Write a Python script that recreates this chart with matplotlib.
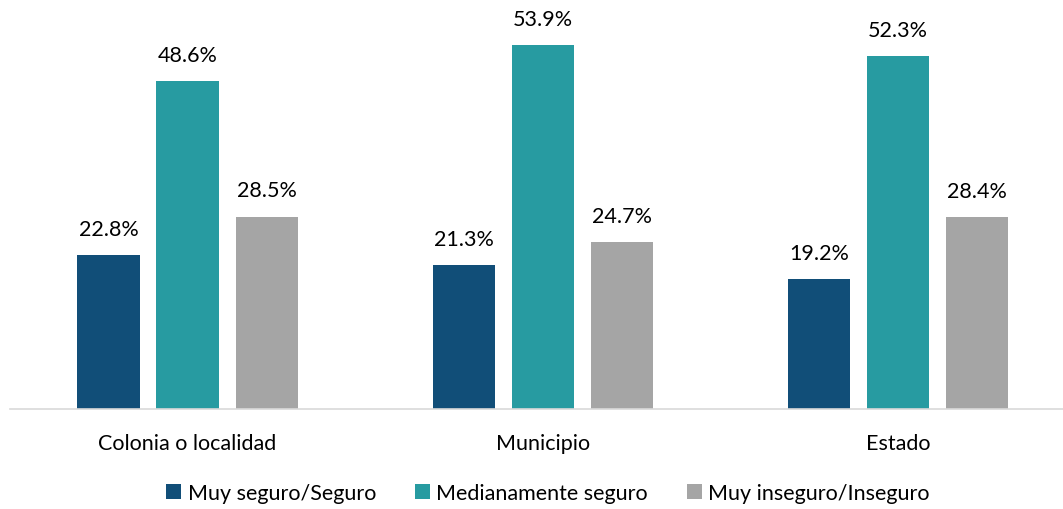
import matplotlib.pyplot as plt
import numpy as np

plt.rcParams['font.family'] = ['Lato', 'DejaVu Sans']

categories = ["Colonia o localidad", "Municipio", "Estado"]
series_names = ["Muy seguro/Seguro", "Medianamente seguro", "Muy inseguro/Inseguro"]
muy_seguro = [22.8, 21.3, 19.2]
medianamente = [48.6, 53.9, 52.3]
inseguro = [28.5, 24.7, 28.4]
colors = ["#114E78", "#279BA1", "#A5A5A5"]

fig = plt.figure(figsize=(10.63, 5.10), dpi=100)
ax = fig.add_axes([10 / 1063, 100 / 510, 1053 / 1063, 405 / 510])

x = np.arange(len(categories))
width = 0.175
step = 0.2225
for i, (vals, name) in enumerate(zip([muy_seguro, medianamente, inseguro], series_names)):
    pos = x + (i - 1) * step
    bars = ax.bar(pos, vals, width=width, color=colors[i], label=name)
    for b, v in zip(bars, vals):
        ax.text(b.get_x() + b.get_width() / 2, v + 2.4, f"{v:.1f}%",
                ha='center', va='bottom', fontsize=15.5, color='#000000')

ax.set_xlim(-0.5, 2.465)
ax.set_ylim(0, 60)
ax.set_yticks([])
ax.set_xticks(x)
ax.set_xticklabels(categories, fontsize=15.5)
ax.tick_params(axis='x', length=0, pad=17)
for s in ['top', 'right', 'left']:
    ax.spines[s].set_visible(False)
ax.spines['bottom'].set_color('#D9D9D9')
ax.spines['bottom'].set_linewidth(1.2)

fig.legend(loc='center', bbox_to_anchor=(548 / 1063, 16 / 510), ncol=3, frameon=False,
           fontsize=15.5, handlelength=0.7, handleheight=0.7, handletextpad=0.3,
           columnspacing=1.8)

fig.savefig("out.png", dpi=100)
